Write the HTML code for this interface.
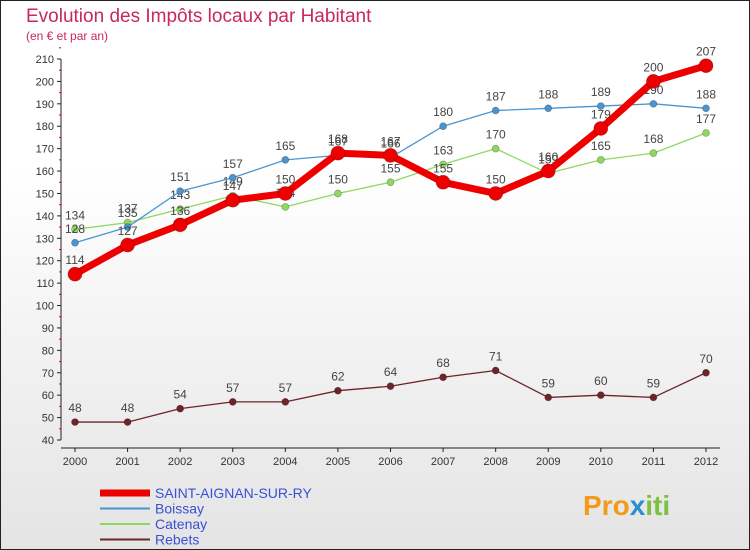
<!DOCTYPE html>
<html><head><meta charset="utf-8"><style>
body{margin:0;width:750px;height:550px;overflow:hidden;font-family:"Liberation Sans",sans-serif}
#wrap{position:absolute;left:0;top:0;width:748px;height:548px;border:1px solid #222;background:linear-gradient(#fff,#fff 30%,#e4e4e4);}
</style></head><body>
<div id="wrap">
<svg id="chart" width="750" height="550" style="position:absolute;left:-1px;top:-1px">
<text x="26" y="22" font-size="19" fill="#c8285a">Evolution des Impôts locaux par Habitant</text>
<text x="26" y="40" font-size="12" fill="#c8285a">(en € et par an)</text>
<g id="axes"></g><g id="series"></g><g id="legend"></g>
<text x="583" y="515" font-size="28" font-weight="bold" fill="#f39a1a">Pro<tspan fill="#2a8fd0">x</tspan><tspan fill="#7cc242">iti</tspan></text>
</svg></div>
<script>
const years=[2000,2001,2002,2003,2004,2005,2006,2007,2008,2009,2010,2011,2012];
const saint=[114,127,136,147,150,168,167,155,150,160,179,200,207];
const boissay=[128,135,151,157,165,167,166,180,187,188,189,190,188];
const catenay=[134,137,143,149,144,150,155,163,170,159,165,168,177];
const rebets=[48,48,54,57,57,62,64,68,71,59,60,59,70];
const yTicks=[40,50,60,70,80,90,100,110,120,130,140,150,160,170,180,190,200,210];
const NS="http://www.w3.org/2000/svg";
const X=i=>75+i*(706-75)/12;
const Y=v=>440-(v-40)*(440-59)/170;
function mk(p,t,a){const e=document.createElementNS(NS,t);for(const k in a)e.setAttribute(k,a[k]);p.appendChild(e);return e;}
const ax=document.getElementById('axes');
const yl=mk(ax,'line',{x1:61,y1:Y(210),x2:61,y2:Y(40),stroke:'#222'});


const xl=mk(ax,'line',{x1:61,y1:Y(40)+8,x2:720,y2:Y(40)+8,stroke:'#222'});


yTicks.forEach(v=>{
  mk(ax,'line',{x1:57,x2:61,y1:Y(v),y2:Y(v),stroke:'#222'});
  mk(ax,'line',{x1:59,x2:61,y1:Y(v+5),y2:Y(v+5),stroke:'#d00'});
  const t=mk(ax,'text',{x:54,y:Y(v)+4,'font-size':11,'text-anchor':'end',fill:'#333'});t.textContent=v;
  
  
});
years.forEach((y,i)=>{
  mk(ax,'line',{x1:X(i),x2:X(i),y1:Y(40)+8,y2:Y(40)+12,stroke:'#222'});
  const t=mk(ax,'text',{x:X(i),y:Y(40)+25,'font-size':11,'text-anchor':'middle',fill:'#333'});t.textContent=y;
  
  
});
const sg=document.getElementById('series');
function draw(data,color,w,r,name){
  const g=mk(sg,'g',{});
  
  
  mk(g,'polyline',{points:data.map((v,i)=>X(i)+','+Y(v)).join(' '),fill:'none',stroke:color,'stroke-width':w,'stroke-linejoin':'round'});
  data.forEach((v,i)=>{
    const c=mk(g,'circle',{cx:X(i),cy:Y(v),r:r,fill:color,stroke:'rgba(0,0,0,0.3)','stroke-width':0.7});
    
    
    const t=mk(g,'text',{x:X(i),y:Y(v)-10,'font-size':12,'text-anchor':'middle',fill:'#444'});t.textContent=v;
    
    
  });
}
draw(catenay,'#8fd860',1.3,3.5,'catenay');
draw(boissay,'#4a95d0',1.3,3.5,'boissay');
draw(rebets,'#6e2428',1.3,3.5,'rebets');
draw(saint,'#ee0000',7,7,'saint-aignan');
const lg=document.getElementById('legend');
[['SAINT-AIGNAN-SUR-RY','#ee0000',7],['Boissay','#4a95d0',2],['Catenay','#8fd860',2],['Rebets','#6e2428',2]].forEach((s,i)=>{
  const y=493+i*15.5;
  const g=mk(lg,'g',{});
  
  
  mk(g,'line',{x1:100,x2:150,y1:y,y2:y,stroke:s[1],'stroke-width':s[2]});
  const t=mk(g,'text',{x:155,y:y+5,'font-size':14,fill:'#3b4fd8'});t.textContent=s[0];
});
</script>
</body></html>
